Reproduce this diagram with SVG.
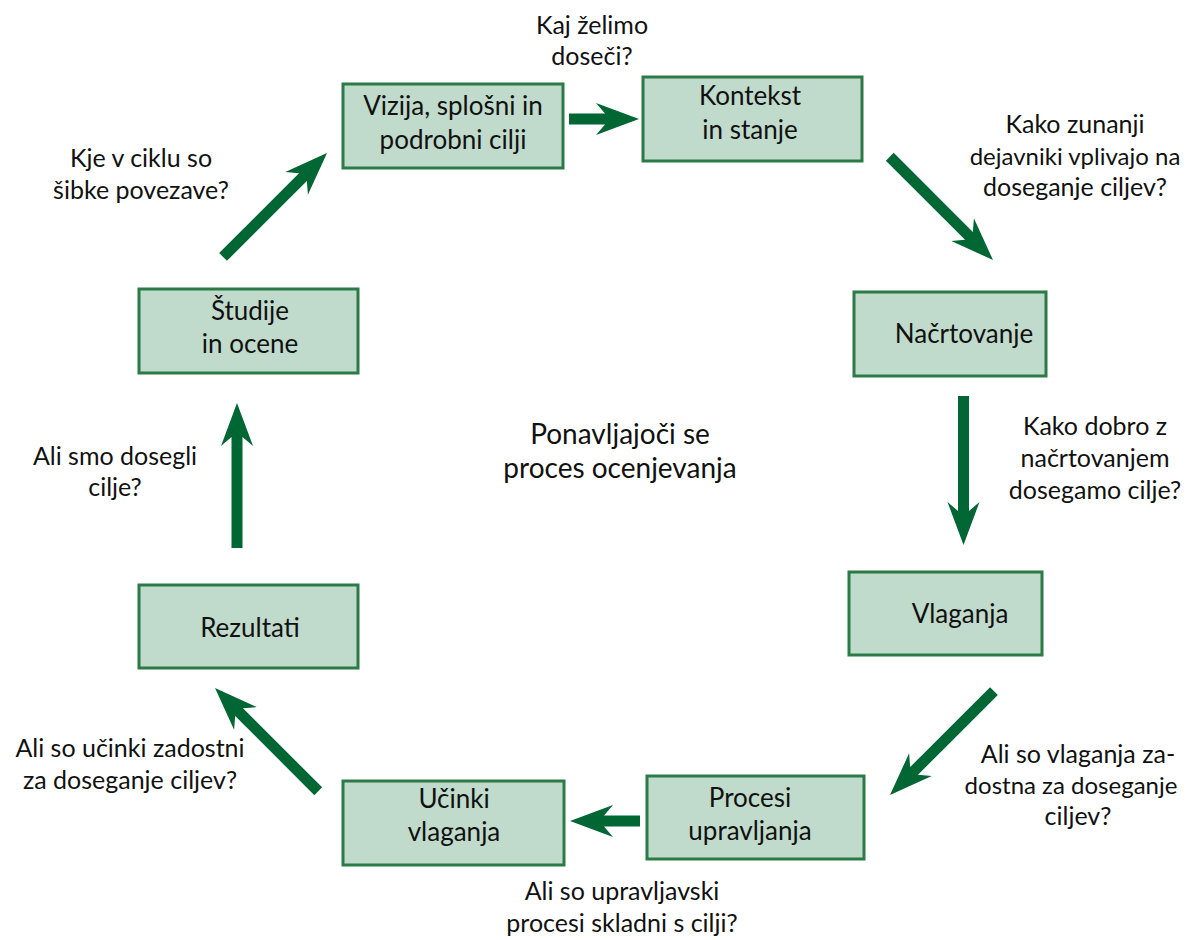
<svg xmlns="http://www.w3.org/2000/svg" width="1187" height="940" viewBox="0 0 1187 940">
<style>
.box{fill:#c0dbcb;stroke:#2b7a47;stroke-width:3}
.t{font-family:Lato,"Open Sans","Liberation Sans",sans-serif;font-size:25px;fill:#111;text-anchor:middle}
.s{font-size:24px}
.n{font-size:26px}
.c{font-size:28px}
.arr{fill:#006633}
</style>
<defs>
<path id="ah" d="M0,0 L-43,-16 L-34,-5.5 L-34,5.5 L-43,16 Z"/>
</defs>
<rect width="1187" height="940" fill="#fff"/>
<g id="connectors" class="arr">
<g transform="translate(639,119)"><use href="#ah"/><rect x="-70" y="-5.5" width="37" height="11"/></g>
<g transform="translate(993,260) rotate(45)"><use href="#ah"/><rect x="-146" y="-5.5" width="113" height="11"/></g>
<g transform="translate(963.5,545) rotate(90)"><use href="#ah"/><rect x="-149" y="-5.5" width="116" height="11"/></g>
<g transform="translate(890,795) rotate(135)"><use href="#ah"/><rect x="-147" y="-5.5" width="114" height="11"/></g>
<g transform="translate(570,821) rotate(180)"><use href="#ah"/><rect x="-70" y="-5.5" width="37" height="11"/></g>
<g transform="translate(215,688) rotate(225)"><use href="#ah"/><rect x="-146" y="-5.5" width="113" height="11"/></g>
<g transform="translate(237,403) rotate(270)"><use href="#ah"/><rect x="-145" y="-5.5" width="112" height="11"/></g>
<g transform="translate(327,153) rotate(315)"><use href="#ah"/><rect x="-147" y="-5.5" width="114" height="11"/></g>
</g>
<g id="n-vizija"><rect class="box" x="343" y="84" width="220" height="84"/><text class="t n" x="453" y="115">Vizija, splošni in</text><text class="t n" x="453" y="149">podrobni cilji</text></g>
<g id="n-kontekst"><rect class="box" x="643" y="77" width="219" height="84"/><text class="t n" x="750" y="105">Kontekst</text><text class="t n" x="750" y="139">in stanje</text></g>
<g id="n-nacrtovanje"><rect class="box" x="854" y="292" width="192" height="84"/><text class="t n" x="964" y="343">Načrtovanje</text></g>
<g id="n-vlaganja"><rect class="box" x="849" y="572" width="193" height="83"/><text class="t n" x="960" y="623">Vlaganja</text></g>
<g id="n-procesi"><rect class="box" x="647" y="776" width="217" height="83"/><text class="t n" x="750" y="807">Procesi</text><text class="t n" x="750" y="840">upravljanja</text></g>
<g id="n-ucinki"><rect class="box" x="343" y="781" width="221" height="84"/><text class="t n" x="454" y="808">Učinki</text><text class="t n" x="454" y="841">vlaganja</text></g>
<g id="n-rezultati"><rect class="box" x="139" y="585" width="219" height="83"/><text class="t n" x="250" y="637">Rezultati</text></g>
<g id="n-studije"><rect class="box" x="139" y="289" width="219" height="84"/><text class="t n" x="250" y="320">Študije</text><text class="t n" x="250" y="353">in ocene</text></g>
<g id="labels">
<text class="t" x="592" y="34">Kaj želimo</text><text class="t" x="592" y="65">doseči?</text>
<text class="t" x="1075" y="133">Kako zunanji</text><text class="t s" x="1075" y="165">dejavniki vplivajo na</text><text class="t" x="1075" y="196">doseganje ciljev?</text>
<text class="t" x="1095" y="435">Kako dobro z</text><text class="t" x="1095" y="467">načrtovanjem</text><text class="t" x="1095" y="499">dosegamo cilje?</text>
<text class="t" x="1078" y="763">Ali so vlaganja za-</text><text class="t s" x="1071" y="794">dostna za doseganje</text><text class="t" x="1078" y="825">ciljev?</text>
<text class="t" x="622" y="900">Ali so upravljavski</text><text class="t" x="622" y="932">procesi skladni s cilji?</text>
<text class="t" x="130" y="757">Ali so učinki zadostni</text><text class="t" x="130" y="789">za doseganje ciljev?</text>
<text class="t" x="115" y="465">Ali smo dosegli</text><text class="t" x="115" y="496">cilje?</text>
<text class="t" x="141" y="167">Kje v ciklu so</text><text class="t" x="141" y="199">šibke povezave?</text>
<text class="t c" x="620" y="444">Ponavljajoči se</text><text class="t c" x="620" y="478">proces ocenjevanja</text>
</g>
</svg>
